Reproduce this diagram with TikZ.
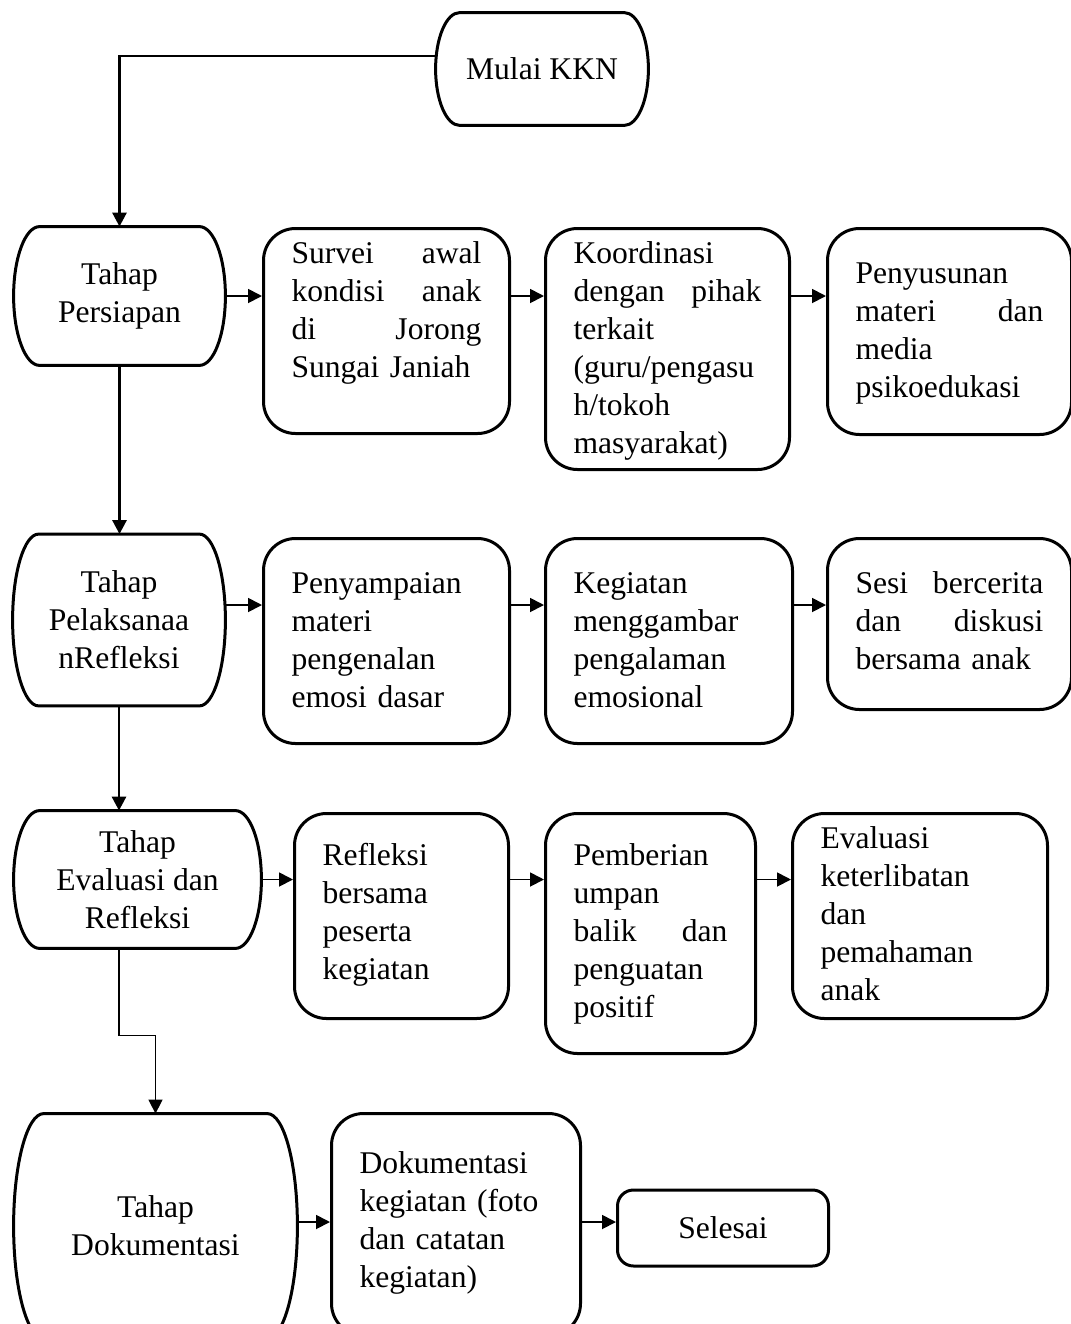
\documentclass[tikz,border=0pt]{standalone}
\usepackage{fontspec}
\setmainfont{Liberation Serif}
\usetikzlibrary{calc,arrows.meta}
\newcommand{\flowfont}{\fontsize{15.8pt}{19pt}\selectfont}
% outline of a stage: straight top and bottom, bulging sides
\newcommand{\stageline}[2]{%
	\draw[stageline] ([xshift=#2]#1.north west) -- ([xshift=-#2]#1.north east)
		.. controls ($([xshift=-#2]#1.north east)!0.5523!(#1.north east)$) and ($(#1.east)!0.5523!(#1.north east)$) .. (#1.east)
		.. controls ($(#1.east)!0.5523!(#1.south east)$) and ($([xshift=-#2]#1.south east)!0.5523!(#1.south east)$) .. ([xshift=-#2]#1.south east)
		-- ([xshift=#2]#1.south west)
		.. controls ($([xshift=#2]#1.south west)!0.5523!(#1.south west)$) and ($(#1.west)!0.5523!(#1.south west)$) .. (#1.west)
		.. controls ($(#1.west)!0.5523!(#1.north west)$) and ($([xshift=#2]#1.north west)!0.5523!(#1.north west)$) .. ([xshift=#2]#1.north west) -- cycle;}

\begin{document}
\begin{tikzpicture}[x=0.5pt,y=-0.5pt,
	stage/.style={rectangle, inner sep=0, align=center, font=\flowfont},
	stageline/.style={draw=black, line width=1.5pt, line join=round},
	box/.style={rectangle, rounded corners=16pt, draw=black, line width=1.5pt, anchor=north west, inner xsep=14pt, inner ysep=0pt, align=left, font=\flowfont},
	endbox/.style={rectangle, rounded corners=8pt, draw=black, line width=1.5pt, minimum width=105.5pt, minimum height=38pt, font=\flowfont},
	flow/.style={line width=1.4pt, -{Triangle[length=7pt,width=7pt]}},
	link/.style={line width=0.9pt, -{Triangle[length=7pt,width=7pt]}},
	thinflow/.style={line width=0.7pt, -{Triangle[length=7pt,width=7pt]}}]

	\clip (0,0) rectangle (1071,1324);

	%stages
	\node[stage, minimum width=106pt, minimum height=56pt] at (542,69) (start) {Mulai KKN};
	\node[stage, minimum width=105.5pt, minimum height=69pt] at (119.5,296) (p1) {Tahap\\Persiapan};
	\node[stage, minimum width=106pt, minimum height=85.5pt] at (119,620) (p2) {Tahap\\Pelaksanaa\\nRefleksi};
	\node[stage, minimum width=123.5pt, minimum height=68.5pt] at (137.5,879.5) (p3) {Tahap\\Evaluasi dan\\Refleksi};
	\node[stage, minimum width=141.5pt, minimum height=112pt] at (155.5,1226) (p4) {Tahap\\Dokumentasi};
	\foreach \n/\c in {start/12pt, p1/13pt, p2/13pt, p3/13pt, p4/15pt} {
		\stageline{\n}{\c}
	}

	%row 1: persiapan
	\node[box, text width=95pt, text height=17.5pt, text depth=85pt] at (262,227) (b11)
		{Survei\hfill awal\\ kondisi\hfill anak\\ di\hfill Jorong\\ Sungai Janiah};
	\node[box, text width=94pt, text height=17.5pt, text depth=103pt] at (544,227) (b12)
		{Koordinasi\\ dengan\hfill pihak\\ terkait\\ (guru/pengasu\\ h/tokoh\\ masyarakat)};
	\node[box, text width=94pt, text height=27.5pt, text depth=75.5pt] at (826,227) (b13)
		{Penyusunan\\ materi\hfill dan\\ media\\ psikoedukasi};

	%row 2: pelaksanaan
	\node[box, text width=95pt, text height=27.5pt, text depth=75pt] at (262,537) (b21)
		{Penyampaian\\ materi\\ pengenalan\\ emosi dasar};
	\node[box, text width=95.5pt, text height=27.5pt, text depth=75pt] at (544,537) (b22)
		{Kegiatan\\ menggambar\\ pengalaman\\ emosional};
	\node[box, text width=94pt, text height=27.5pt, text depth=58pt] at (826,537) (b23)
		{Sesi\hfill bercerita\\ dan\hfill diskusi\\ bersama anak};

	%row 3: evaluasi
	\node[box, text width=79pt, text height=26pt, text depth=76.5pt] at (293,812) (b31)
		{Refleksi\\ bersama\\ peserta\\ kegiatan};
	\node[box, text width=77pt, text height=26pt, text depth=94pt] at (544,812) (b32)
		{Pemberian\\ umpan\\ balik\hfill dan\\ penguatan\\ positif};
	\node[box, text width=99.5pt, text height=17.5pt, text depth=85pt] at (791,812) (b33)
		{Evaluasi\\ keterlibatan\\ dan\\ pemahaman\\ anak};

	%row 4: dokumentasi
	\node[box, text width=96.5pt, text height=30pt, text depth=81pt] at (330,1112) (b41)
		{Dokumentasi\\ kegiatan (foto\\ dan catatan\\ kegiatan)};
	\node[endbox] at (723,1228) (b42) {Selesai};

	%row levels
	\coordinate (r1) at (p1.east);
	\coordinate (r2) at ([yshift=7.5pt]p2.east);
	\coordinate (r3) at (p3.east);
	\coordinate (r4) at ([yshift=2pt]p4.east);

	%main line
	\draw[flow] ([yshift=6.5pt]start.west) -| (p1.north);
	\draw[flow] (p1.south) -- (p1.south |- p2.north);
	\draw[flow] (p2.south) -- (p2.south |- p3.north);
	\draw[thinflow] (p3.south -| p2.south) -- ++(0,87) -| (p4.north);

	%steps
	\foreach \i in {1,2,3} {
		\draw[link] (p\i.east |- r\i) -- (b\i1.west |- r\i);
		\draw[link] (b\i1.east |- r\i) -- (b\i2.west |- r\i);
		\draw[link] (b\i2.east |- r\i) -- (b\i3.west |- r\i);
	}
	\draw[link] (p4.east |- r4) -- (b41.west |- r4);
	\draw[link] (b41.east |- r4) -- (b42.west |- r4);
\end{tikzpicture}
\end{document}
